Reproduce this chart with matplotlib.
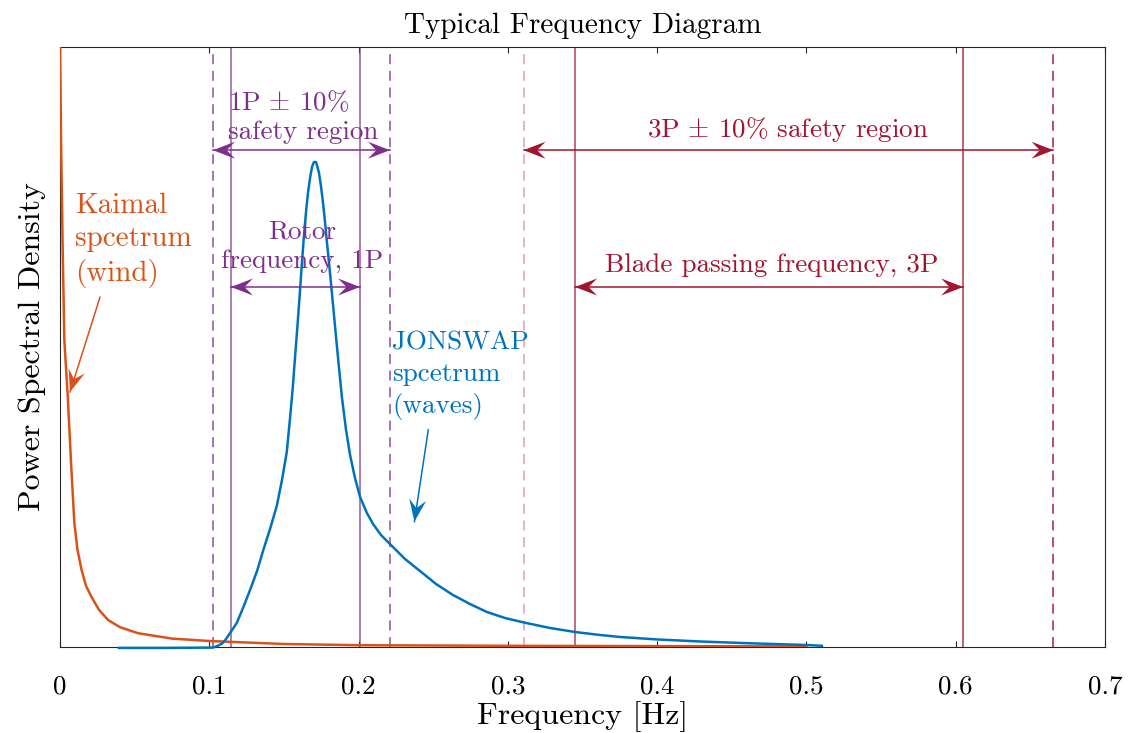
import numpy as np
import matplotlib
matplotlib.use("Agg")
import matplotlib.pyplot as plt
from matplotlib.patches import Polygon
from matplotlib.transforms import IdentityTransform

plt.rcParams["font.family"] = "cmr10"
plt.rcParams["mathtext.fontset"] = "cm"
plt.rcParams["axes.formatter.use_mathtext"] = True

# --- spectra (normalised PSD, 0..1) ---
kaimal_f = [0.0, 0.0007, 0.0017, 0.0029, 0.0052, 0.0074, 0.0096, 0.0117, 0.0145,
            0.0174, 0.0212, 0.0261, 0.0322, 0.0402, 0.0522, 0.075, 0.10, 0.15,
            0.20, 0.30, 0.40, 0.50]
kaimal_psd = [1.02, 0.845, 0.678, 0.512, 0.417, 0.307, 0.207, 0.162, 0.128,
              0.102, 0.083, 0.062, 0.045, 0.033, 0.023, 0.014, 0.010, 0.005,
              0.003, 0.002, 0.0015, 0.001]

jonswap_f = [0.0395, 0.07, 0.1025, 0.1058, 0.1085, 0.1105, 0.1139, 0.1184, 0.1226,
             0.1273, 0.1320, 0.1362, 0.1407, 0.1452, 0.1487, 0.1519, 0.1541, 0.1559,
             0.1574, 0.1591, 0.1608, 0.1621, 0.1634, 0.1648, 0.1661, 0.1675, 0.1688,
             0.1701, 0.1715, 0.1721, 0.1735, 0.1748, 0.1762, 0.1775, 0.1788, 0.1808,
             0.1829, 0.1849, 0.1869, 0.1889, 0.1916, 0.1943, 0.1976, 0.2010, 0.2056,
             0.2097, 0.2150, 0.2217, 0.2311, 0.2411, 0.2519, 0.2632, 0.2746, 0.2860,
             0.2981, 0.3108, 0.3282, 0.3450, 0.3617, 0.3751, 0.4006, 0.4287, 0.4622,
             0.5004, 0.5104]
jonswap_psd = [-0.0015, -0.0015, -0.001, 0.0022, 0.0058, 0.0108, 0.0233, 0.040, 0.065,
               0.095, 0.1267, 0.1617, 0.1967, 0.235, 0.2783, 0.325, 0.3817, 0.4317,
               0.4817, 0.5367, 0.595, 0.6417, 0.685, 0.725, 0.7567, 0.7817, 0.80,
               0.8083, 0.8083, 0.8033, 0.79, 0.7683, 0.74, 0.7083, 0.675, 0.625,
               0.57, 0.5167, 0.465, 0.415, 0.3617, 0.32, 0.2817, 0.25, 0.2233,
               0.205, 0.1867, 0.17, 0.1467, 0.1267, 0.105, 0.0867, 0.0717, 0.0583,
               0.0483, 0.0408, 0.0317, 0.025, 0.020, 0.0167, 0.0125, 0.0092, 0.0062,
               0.0033, 0.002]

# rotor (1P) and blade passing (3P) frequency ranges [Hz]
f1p = (0.1145, 0.201)
f1p_safe = (0.1025, 0.221)
f3p = (0.345, 0.605)
f3p_safe = (0.3105, 0.6655)

xticks = [0, 0.1, 0.2, 0.3, 0.4, 0.5, 0.6, 0.7]
xticklabels = ["0", "0.1", "0.2", "0.3", "0.4", "0.5", "0.6", "0.7"]

orange = "#D95319"
blue = "#0072BD"
purple = "#7E2F8E"
red = "#A2142F"

fig = plt.figure(figsize=(11.29, 7.33), dpi=100)
ax = fig.add_axes([60 / 1129, 1 - 647 / 733, 1045 / 1129, 600 / 733])
ax.set_xlim(0, 0.7)
ax.set_ylim(0, 1)

dash = (0, (6.5, 4.4))
ax.axvline(f1p_safe[0], color=purple, lw=1.1, ls=dash, alpha=0.85)
ax.axvline(f1p_safe[1], color=purple, lw=1.1, ls=dash, alpha=0.85)
ax.axvline(f1p[0], color=purple, lw=1.1, alpha=0.8)
ax.axvline(f1p[1], color=purple, lw=1.1, alpha=0.8)
ax.axvline(f3p_safe[0], color=red, lw=1.1, ls=dash, alpha=0.4)
ax.axvline(f3p_safe[1], color=red, lw=1.1, ls=dash, alpha=0.95)
ax.axvline(f3p[0], color=red, lw=1.1, alpha=0.8)
ax.axvline(f3p[1], color=red, lw=1.1, alpha=0.85)

ax.plot(kaimal_f, kaimal_psd, color=orange, lw=1.8, zorder=3)
ax.plot(jonswap_f, jonswap_psd, color=blue, lw=1.8, zorder=3, clip_on=False)


def head(x, y, ux, uy, color, L=22, W=8.5):
    """MATLAB 'vback2'-like arrow head with its tip at display point (x, y)."""
    nx, ny = -uy, ux
    pts = [(x, y),
           (x - L * ux + W * nx, y - L * uy + W * ny),
           (x - 0.62 * L * ux, y - 0.62 * L * uy),
           (x - L * ux - W * nx, y - L * uy - W * ny)]
    ax.add_patch(Polygon(pts, closed=True, color=color, transform=IdentityTransform(),
                         zorder=5, clip_on=False, lw=0))


def arrow(x0, y0, x1, y1, color, both=False, lw=1.1):
    ax.plot([x0, x1], [y0, y1], color=color, lw=lw, zorder=4, clip_on=False)
    p0 = ax.transData.transform((x0, y0))
    p1 = ax.transData.transform((x1, y1))
    d = (p1 - p0) / np.hypot(*(p1 - p0))
    head(p1[0], p1[1], d[0], d[1], color)
    if both:
        head(p0[0], p0[1], -d[0], -d[1], color)


y_upper, y_lower = 0.828, 0.60
arrow(f1p_safe[0], y_upper, f1p_safe[1], y_upper, purple, both=True)
arrow(f1p[0], y_lower, f1p[1], y_lower, purple, both=True)
arrow(f3p_safe[0], y_upper, f3p_safe[1], y_upper, red, both=True)
arrow(f3p[0], y_lower, f3p[1], y_lower, red, both=True)
arrow(0.0268, 0.583, 0.0067, 0.425, orange)
arrow(0.2467, 0.362, 0.2374, 0.209, blue)

fs = 19.5
ax.text(0.1628, 0.884, "1P $\\pm$ 10$\\%$\nsafety region", color=purple, fontsize=fs,
        ha="center", va="center", multialignment="left", linespacing=1.3)
ax.text(0.1622, 0.668, "Rotor\nfrequency, 1P", color=purple, fontsize=fs,
        ha="center", va="center", linespacing=1.32)
ax.text(0.4877, 0.863, "3P $\\pm$ 10$\\%$ safety region", color=red, fontsize=fs,
        ha="center", va="center")
ax.text(0.477, 0.637, "Blade passing frequency, 3P", color=red, fontsize=fs,
        ha="center", va="center")
ax.text(0.010, 0.678, "Kaimal\nspcetrum\n(wind)", color=orange, fontsize=21,
        ha="left", va="center", linespacing=1.33)
ax.text(0.2224, 0.452, "JONSWAP\nspcetrum\n(waves)", color=blue, fontsize=fs,
        ha="left", va="center", linespacing=1.38)

ax.set_xticks(xticks)
ax.set_xticklabels(xticklabels)
ax.set_yticks([])
ax.tick_params(axis="x", direction="in", top=True, length=4.5, width=0.8,
               labelsize=19.5, pad=20, color="#262626")
for s in ax.spines.values():
    s.set_color("#262626")
    s.set_linewidth(0.8)

ax.set_xlabel("Frequency [Hz]", fontsize=23, labelpad=2)
ax.set_ylabel("Power Spectral Density", fontsize=23, labelpad=10)
ax.set_title("Typical Frequency Diagram", fontsize=21, pad=10)

fig.savefig("out.png", dpi=100)
